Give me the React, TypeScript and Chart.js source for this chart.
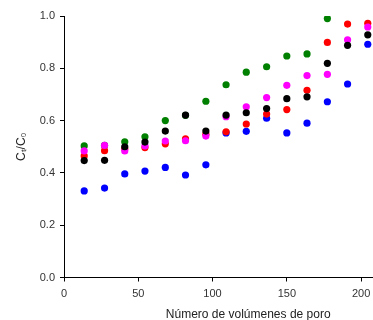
import React, { useEffect, useRef } from "react";
import { Chart, registerables } from "chart.js";

Chart.register(...registerables);

const poreVolumes = [13.6, 27.3, 40.9, 54.5, 68.2, 81.8, 95.5, 109.1, 122.7, 136.4, 150.0, 163.6, 177.3, 190.9, 204.5];
const seriesBlack = [0.447, 0.448, 0.5, 0.518, 0.56, 0.621, 0.56, 0.621, 0.63, 0.646, 0.684, 0.691, 0.819, 0.888, 0.928];
const seriesMagenta = [0.484, 0.505, 0.484, 0.503, 0.522, 0.523, 0.541, 0.615, 0.653, 0.688, 0.735, 0.772, 0.777, 0.909, 0.958];
const seriesRed = [0.465, 0.485, 0.492, 0.497, 0.511, 0.53, 0.548, 0.557, 0.587, 0.625, 0.642, 0.716, 0.899, 0.969, 0.972];
const seriesGreen = [0.503, 0.505, 0.519, 0.538, 0.6, 0.62, 0.674, 0.737, 0.785, 0.806, 0.847, 0.855, 0.99, null, null];
const seriesBlue = [0.331, 0.342, 0.396, 0.407, 0.421, 0.392, 0.431, 0.553, 0.559, 0.609, 0.553, 0.59, 0.672, 0.74, 0.892];

const xTickValues = [0, 50, 100, 150, 200];
const yTickValues = [0, 0.2, 0.4, 0.6, 0.8, 1.0];

const xTitle = "Número de volúmenes de poro";
const yTitle = "Cₜ/C₀";

const FONT = "'Liberation Sans', Arial, sans-serif";

function pts(values: (number | null)[]) {
  const out: { x: number; y: number }[] = [];
  values.forEach((v, i) => {
    if (v !== null) out.push({ x: poreVolumes[i], y: v });
  });
  return out;
}

export default function App() {
  const ref = useRef<HTMLCanvasElement>(null);

  useEffect(() => {
    document.body.style.margin = "0";
    const canvas = ref.current;
    if (!canvas) return;
    const mk = (data: (number | null)[], color: string) => ({
      data: pts(data),
      backgroundColor: color,
      borderColor: color,
      borderWidth: 0,
      pointRadius: 3.6,
      pointHoverRadius: 3.6,
      showLine: false,
    });
    const chart = new Chart(canvas, {
      type: "scatter",
      data: {
        datasets: [
          mk(seriesBlack, "#000000"),
          mk(seriesMagenta, "#ff00ff"),
          mk(seriesRed, "#ff0000"),
          mk(seriesGreen, "#008000"),
          mk(seriesBlue, "#0000ff"),
        ],
      },
      options: {
        animation: false,
        responsive: false,
        devicePixelRatio: 1,
        layout: { padding: { top: 16, left: 0, right: 0, bottom: 0 } },
        plugins: { legend: { display: false }, tooltip: { enabled: false } },
        scales: {
          x: {
            type: "linear",
            min: 0,
            max: 248,
            afterBuildTicks: (s: any) => {
              s.ticks = xTickValues.map((v) => ({ value: v }));
            },
            afterFit: (s: any) => {
              s.height = 42.5;
            },
            border: { display: true, color: "#000", width: 1 },
            grid: { display: true, drawOnChartArea: false, drawTicks: true, tickLength: 4, color: "#000" },
            ticks: { padding: 6, color: "#333", font: { family: FONT, size: 11 } },
            title: {
              display: true,
              text: xTitle,
              color: "#222",
              font: { family: FONT, size: 12, lineHeight: 1 },
              padding: { top: 0, bottom: -1 },
            },
          },
          y: {
            type: "linear",
            min: 0,
            max: 1,
            afterBuildTicks: (s: any) => {
              s.ticks = yTickValues.map((v) => ({ value: v }));
            },
            afterFit: (s: any) => {
              s.width = 64;
            },
            border: { display: true, color: "#000", width: 1 },
            grid: { display: true, drawOnChartArea: false, drawTicks: true, tickLength: 4, color: "#000" },
            ticks: {
              padding: 5,
              color: "#333",
              font: { family: FONT, size: 11 },
              callback: (v: any) => Number(v).toFixed(1),
            },
            title: {
              display: true,
              text: yTitle,
              color: "#222",
              font: { family: FONT, size: 12 },
              padding: { top: 14, bottom: 0 },
            },
          },
        },
      },
    });
    return () => chart.destroy();
  }, []);

  return (
    <div style={{ width: 373, height: 320, overflow: "hidden" }}>
      <canvas ref={ref} width={436} height={320} style={{ display: "block" }} />
    </div>
  );
}
